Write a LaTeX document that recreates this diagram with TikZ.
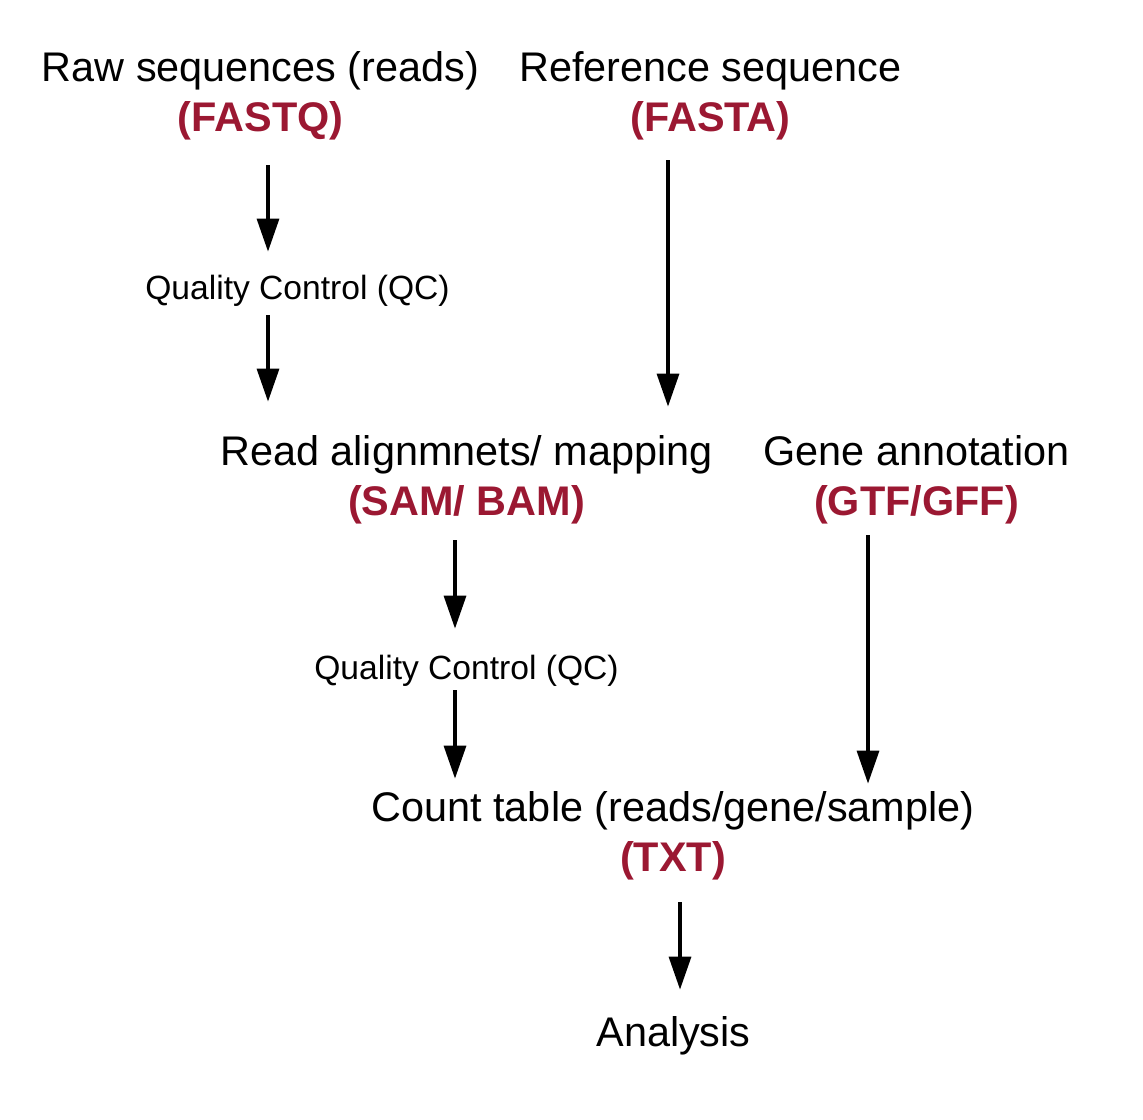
\documentclass[tikz,border=0pt]{standalone}
\usepackage{fontspec}
\setmainfont{Liberation Sans}
\usepackage{xcolor}
\usepackage{tikz}
\usetikzlibrary{arrows.meta}
\definecolor{fmtred}{RGB}{155,24,50}

\tikzset{
  big/.style={inner sep=0pt,anchor=base,text height=15pt,text depth=4.5pt,
    font=\fontsize{20.7pt}{24pt}\selectfont},
  fmt/.style={big,text=fmtred,font=\fontsize{20.7pt}{24pt}\selectfont\bfseries},
  small/.style={inner sep=0pt,anchor=base,text height=12.5pt,text depth=3.5pt,
    font=\fontsize{16.8pt}{20pt}\selectfont},
  arr/.style={line width=1.65pt,-{Triangle[width=11pt,length=16.5pt]}}
}

\begin{document}
\begin{tikzpicture}[x=0.5pt,y=-0.5pt]
\useasboundingbox (0,0) rectangle (1143,1119);

% inputs
\node[big] (raw) at (260.5,81) {Raw sequences (reads)};
\node[fmt] (fastq) at (260.5,131) {(FASTQ)};
\node[big] (ref) at (710.5,81) {Reference sequence};
\node[fmt] (fasta) at (710.5,131) {(FASTA)};

\node[small] (qc1) at (297.5,299) {Quality Control (QC)};

% mapping
\node[big] (align) at (466.5,465) {Read alignmnets/ mapping};
\node[fmt] (sambam) at (466.5,515) {(SAM/ BAM)};
\node[big] (gene) at (916.5,465) {Gene annotation};
\node[fmt] (gtf) at (916.5,515) {(GTF/GFF)};

\node[small] (qc2) at (466.5,679) {Quality Control (QC)};

% counting
\node[big] (count) at (673,821) {Count table (reads/gene/sample)};
\node[fmt] (txt) at (673,871) {(TXT)};
\node[big] (analysis) at (673.5,1046) {Analysis};

\draw[arr,shorten <=12.5pt,shorten >=11pt] ([xshift=3.75pt]fastq.south) -- ([xshift=-14.75pt]qc1.north);
\draw[arr,shorten <=4.5pt,shorten >=16.5pt] ([xshift=-14.75pt]qc1.south) -- ([xshift=-99.25pt]align.north);
\draw[arr,shorten <=10pt,shorten >=14pt] ([xshift=-21.25pt]fasta.south) -- ([xshift=100.75pt]align.north);
\draw[arr,shorten <=8pt,shorten >=12.5pt] ([xshift=-5.75pt]sambam.south) -- ([xshift=-5.75pt]qc2.north);
\draw[arr,shorten <=2pt,shorten >=6pt] ([xshift=-5.75pt]qc2.south) -- ([xshift=-109pt]count.north);
\draw[arr,shorten <=5.5pt,shorten >=3.5pt] ([xshift=-24.25pt]gtf.south) -- ([xshift=97.5pt]count.north);
\draw[arr,shorten <=11pt,shorten >=13pt] ([xshift=3.5pt]txt.south) -- ([xshift=3.25pt]analysis.north);
\end{tikzpicture}
\end{document}
